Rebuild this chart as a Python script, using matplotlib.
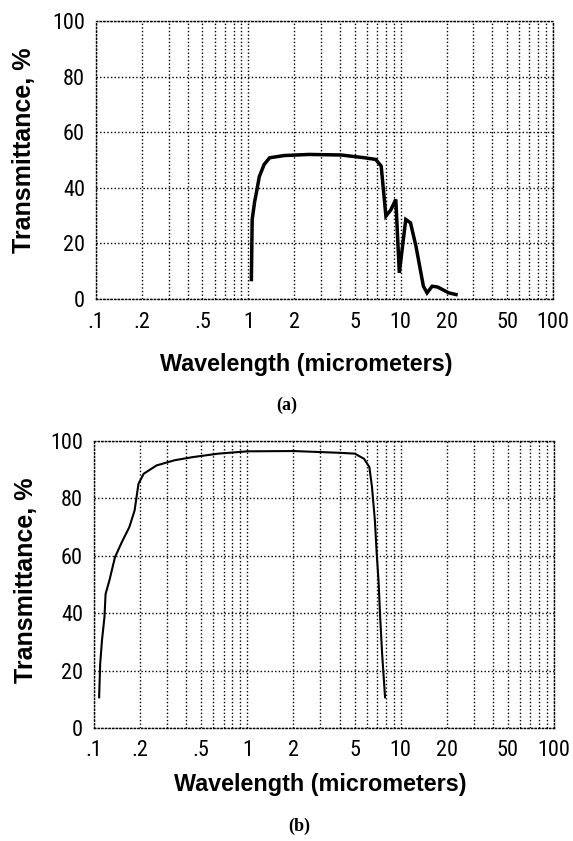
import matplotlib
matplotlib.use("Agg")
import matplotlib.pyplot as plt
from matplotlib import font_manager
import numpy as np

# ---------------- data ----------------
wl_a = [1.047, 1.06, 1.10, 1.14, 1.18, 1.27, 1.38, 1.72, 2.5, 4.06, 5.8, 6.86,
        7.45, 8.0, 8.6, 9.29, 9.8, 10.8, 11.6, 12.6, 14.1, 14.9, 16.1, 17.5, 20.7, 23.1]
tr_a = [7.0, 28.6, 35.0, 39.4, 44.0, 48.4, 50.8, 51.6, 52.0, 51.8, 50.8, 50.2,
        47.8, 29.8, 32.0, 35.8, 9.4, 28.6, 27.4, 19.0, 4.6, 2.2, 4.6, 4.3, 2.2, 1.6]

wl_b = [0.108, 0.1097, 0.1127, 0.117, 0.119, 0.126, 0.137, 0.152, 0.170, 0.184,
        0.195, 0.211, 0.256, 0.336, 0.442, 0.648, 1.0, 2.0, 3.94, 5.02, 5.77,
        6.25, 6.5, 6.79, 6.98, 7.17, 7.37, 7.57, 7.91]
tr_b = [10.7, 22.3, 30.5, 38.6, 46.7, 51.4, 59.5, 64.8, 70.0, 75.8,
        85.1, 88.6, 91.5, 93.3, 94.4, 95.6, 96.4, 96.5, 95.9, 95.6, 93.8,
        90.9, 84.0, 72.3, 60.7, 51.4, 37.4, 25.8, 10.7]

xticks = [0.1, 0.2, 0.5, 1, 2, 5, 10, 20, 50, 100]
xticklabels = [".1", ".2", ".5", "1", "2", "5", "10", "20", "50", "100"]
yticks = [0, 20, 40, 60, 80, 100]

# ---------------- fonts ----------------
fonts = font_manager.fontManager.ttflist
avail = {f.name for f in fonts}
tick_font, tick_stretch = "Liberation Sans", "normal"
for cand in ["Liberation Sans Narrow", "DejaVu Sans Condensed", "Roboto Condensed",
             "Open Sans Condensed", "Noto Sans Condensed"]:
    if cand in avail:
        tick_font = cand
        break
else:
    cond = [f for f in fonts if f.name == "DejaVu Sans" and str(f.stretch) in ("condensed", "semi-condensed")]
    if cond:
        tick_font, tick_stretch = "DejaVu Sans", "condensed"
    else:
        cond = [f for f in fonts if f.name in ("Noto Sans", "Open Sans", "Roboto")
                and str(f.stretch) in ("condensed", "semi-condensed", "extra-condensed")]
        if cond:
            tick_font, tick_stretch = cond[0].name, str(cond[0].stretch)

label_font = "Liberation Sans"
cap_font = "Liberation Serif"

W, H = 573, 841
fig = plt.figure(figsize=(W / 100, H / 100), dpi=100)
fig.patch.set_facecolor("white")


def px_axes(l, t, r, b):
    return [l / W, 1 - b / H, (r - l) / W, (b - t) / H]


def setup(ax, lw_curve, x, y):
    ax.plot(x, y, color="black", lw=lw_curve, solid_joinstyle="miter")
    ax.set_xscale("log")
    ax.set_xlim(0.1, 100)
    ax.set_ylim(0, 100)
    ax.set_xticks(xticks)
    ax.set_xticklabels(xticklabels)
    ax.set_yticks(yticks)
    ax.xaxis.set_minor_locator(matplotlib.ticker.LogLocator(base=10, subs=np.arange(2, 10)))
    ax.xaxis.set_minor_formatter(matplotlib.ticker.NullFormatter())
    ax.grid(True, which="both", axis="x", color="black", linestyle=(0, (1, 1.6)), lw=1.0)
    ax.grid(True, which="major", axis="y", color="black", linestyle=(0, (1, 1.6)), lw=1.0)
    ax.tick_params(which="both", length=0)
    ax.tick_params(axis="x", pad=9)
    ax.tick_params(axis="y", pad=8)
    for s in ax.spines.values():
        s.set_linestyle((0, (1, 1.6)))
        s.set_linewidth(1.0)
    for lab in ax.get_xticklabels() + ax.get_yticklabels():
        lab.set_fontfamily(tick_font)
        lab.set_fontstretch(tick_stretch)
        lab.set_fontsize(16)


ax1 = fig.add_axes(px_axes(96, 21, 553, 299))
setup(ax1, 2.5, wl_a, tr_a)
ax2 = fig.add_axes(px_axes(94, 441, 554, 728))
setup(ax2, 1.5, wl_b, tr_b)

lab_kw = dict(fontfamily=label_font, fontweight="bold")
fig.text(24 / W, 1 - 150 / H, "Transmittance, %", rotation=90, ha="center", va="center",
         fontsize=18, **lab_kw)
fig.text(306 / W, 1 - 365 / H, "Wavelength (micrometers)", ha="center", va="center",
         fontsize=16.8, **lab_kw)
fig.text(26 / W, 1 - 580 / H, "Transmittance, %", rotation=90, ha="center", va="center",
         fontsize=18, **lab_kw)
fig.text(320 / W, 1 - 784 / H, "Wavelength (micrometers)", ha="center", va="center",
         fontsize=16.8, **lab_kw)

cap_kw = dict(fontfamily=cap_font, fontweight="bold", fontsize=13)
fig.text(287 / W, 1 - 405 / H, "(a)", ha="center", va="center", **cap_kw)
fig.text(299 / W, 1 - 826 / H, "(b)", ha="center", va="center", **cap_kw)

fig.savefig("out.png", dpi=100, facecolor="white")
